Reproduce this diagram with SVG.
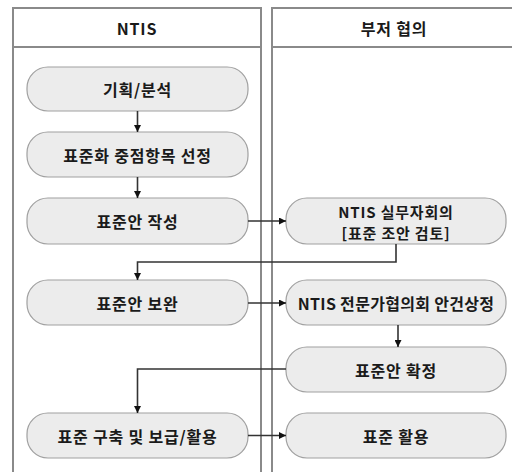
<svg xmlns="http://www.w3.org/2000/svg" width="512" height="472" viewBox="0 0 512 472">
<style>
.lane{fill:#fff;stroke:#8a8a8a;stroke-width:2}
.hline{stroke:#8a8a8a;stroke-width:2}
.node{fill:#ececec;stroke:#a0a0a0;stroke-width:1.2}
.t{font-family:"Noto Sans CJK KR","Noto Sans",sans-serif;font-weight:bold;font-size:16px;letter-spacing:0.8px;fill:#1a1a1a;text-anchor:middle;dominant-baseline:central}
.c{fill:none;stroke:#333;stroke-width:1.6}
</style>
<defs>
<marker id="ah" viewBox="0 0 10 10" refX="10" refY="5" markerWidth="7" markerHeight="7" markerUnits="userSpaceOnUse" orient="auto">
<path d="M0,0 L10,5 L0,10 z" fill="#111"/>
</marker>
</defs>
<g id="lane-ntis">
<rect class="lane" x="13" y="8" width="248" height="470"/>
<line class="hline" x1="13" y1="47" x2="261" y2="47"/>
<text class="t" x="137" y="28">NTIS</text>
</g>
<g id="lane-dept">
<rect class="lane" x="272" y="8" width="250" height="470"/>
<line class="hline" x1="272" y1="47" x2="512" y2="47"/>
<text class="t" x="394" y="28">부저 협의</text>
</g>
<g id="n1"><rect class="node" x="27" y="67" width="221" height="44" rx="21"/><text class="t" x="137.5" y="89">기획/분석</text></g>
<g id="n2"><rect class="node" x="27" y="132" width="221" height="45" rx="21"/><text class="t" x="137.5" y="154.5">표준화 중점항목 선정</text></g>
<g id="n3"><rect class="node" x="27" y="198" width="221" height="46" rx="21"/><text class="t" x="137.5" y="221">표준안 작성</text></g>
<g id="n4"><rect class="node" x="27" y="280" width="221" height="45" rx="21"/><text class="t" x="137.5" y="302.5">표준안 보완</text></g>
<g id="n5"><rect class="node" x="27" y="413" width="221" height="45" rx="21"/><text class="t" x="137.5" y="435.5">표준 구축 및 보급/활용</text></g>
<g id="r1"><rect class="node" x="286" y="198" width="220" height="46" rx="21"/><text class="t" x="396" y="211" style="font-size:15px">NTIS 실무자회의</text><text class="t" x="396" y="232" style="font-size:15px">[표준 조안 검토]</text></g>
<g id="r2"><rect class="node" x="286" y="280" width="220" height="45" rx="21"/><text class="t" x="396" y="302.5" style="letter-spacing:0.3px">NTIS 전문가협의회 안건상정</text></g>
<g id="r3"><rect class="node" x="286" y="347" width="220" height="45" rx="21"/><text class="t" x="396" y="369.5">표준안 확정</text></g>
<g id="r4"><rect class="node" x="286" y="413" width="220" height="45" rx="21"/><text class="t" x="396" y="435.5">표준 활용</text></g>
<g id="connectors">
<path class="c" d="M137.5,111 L137.5,132" marker-end="url(#ah)"/>
<path class="c" d="M137.5,177 L137.5,198" marker-end="url(#ah)"/>
<path class="c" d="M248,221 L286,221" marker-end="url(#ah)"/>
<path class="c" d="M396,244 L396,262 L137.5,262 L137.5,280" marker-end="url(#ah)"/>
<path class="c" d="M248,303 L286,303" marker-end="url(#ah)"/>
<path class="c" d="M398,325 L398,347" marker-end="url(#ah)"/>
<path class="c" d="M286,369 L137.5,369 L137.5,413" marker-end="url(#ah)"/>
<path class="c" d="M248,435.5 L286,435.5" marker-end="url(#ah)"/>
</g>
</svg>
